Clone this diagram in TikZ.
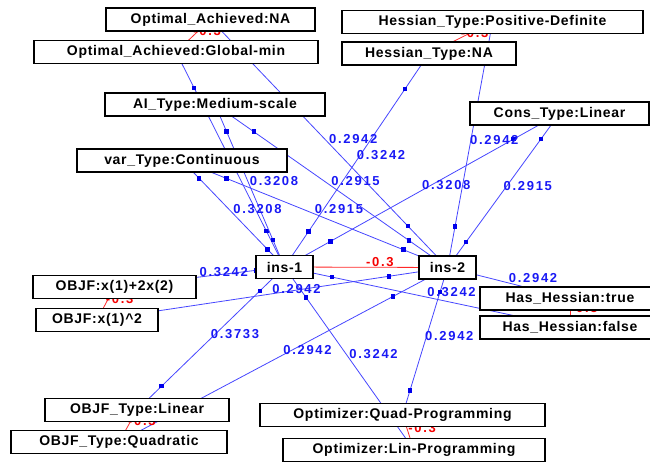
\documentclass[tikz,border=0pt]{standalone}
\usepackage{fontspec}
\setmainfont{Liberation Sans}
\newfontfamily\nodefont[LetterSpace=5]{Liberation Sans Bold}
\newfontfamily\wtfont[LetterSpace=13]{Liberation Sans Bold}
\definecolor{lineblue}{RGB}{70,70,255}
\definecolor{labblue}{RGB}{25,25,245}
\definecolor{sqblue}{RGB}{0,0,235}
\definecolor{linered}{RGB}{255,40,40}
\definecolor{labred}{RGB}{245,0,0}
\pgfdeclarelayer{edgelayer}
\pgfdeclarelayer{labellayer}
\pgfsetlayers{edgelayer,labellayer,main}
\tikzset{
  box/.style={draw=black, line width=1.8pt, fill=white, inner sep=0pt,
    minimum height=23pt, font=\nodefont\fontsize{14}{16}\selectfont},
  wline/.style={draw=lineblue, line width=0.8pt},
  rline/.style={draw=linered, line width=0.8pt},
  bsq/.style={rectangle, fill=sqblue, draw=none, inner sep=0pt, minimum size=4.5pt},
  rsq/.style={rectangle, fill=linered, draw=none, inner sep=0pt, minimum size=4.5pt},
  wlab/.style={text=labblue, font=\wtfont\fontsize{13}{15}\selectfont, anchor=south west, inner sep=0pt},
  rlab/.style={text=labred, font=\wtfont\fontsize{13}{15}\selectfont, anchor=south west, inner sep=0pt}
}
\begin{document}
\begin{tikzpicture}[x=1pt,y=-1pt]
\useasboundingbox (0,0) rectangle (650,463);
\clip (0,0) rectangle (650,463);
% nodes
\node[box, minimum width=209pt] (oana) at (210.5,19.5) {Optimal\_Achieved:NA};
\node[box, minimum width=284pt] (oagm) at (176,52) {Optimal\_Achieved:Global-min};
\node[box, minimum width=220pt] (ai) at (215,104.5) {AI\_Type:Medium-scale};
\node[box, minimum width=210pt] (var) at (182,160.5) {var\_Type:Continuous};
\node[box, minimum width=301pt] (hpd) at (492.5,22) {Hessian\_Type:Positive-Definite};
\node[box, minimum width=174pt] (hna) at (429,53.5) {Hessian\_Type:NA};
\node[box, minimum width=179pt] (cons) at (559.5,113.5) {Cons\_Type:Linear};
\node[box, minimum width=57pt] (ins1) at (284.5,267) {ins-1};
\node[box, minimum width=57pt] (ins2) at (447.5,267.5) {ins-2};
\node[box, minimum width=163pt] (ob1) at (114.5,287) {OBJF:x(1)+2x(2)};
\node[box, minimum width=122pt] (ob2) at (97,320) {OBJF:x(1)\textasciicircum2};
\node[box, minimum width=180pt] (hht) at (570,298.5) {Has\_Hessian:true};
\node[box, minimum width=180pt] (hhf) at (570,327.5) {Has\_Hessian:false};
\node[box, minimum width=184pt] (ot1) at (137,410) {OBJF\_Type:Linear};
\node[box, minimum width=216pt] (ot2) at (119,442) {OBJF\_Type:Quadratic};
\node[box, minimum width=285pt] (qp) at (402.5,415) {Optimizer:Quad-Programming};
\node[box, minimum width=262pt] (lp) at (414,450) {Optimizer:Lin-Programming};
% edges
\begin{pgfonlayer}{edgelayer}
\foreach \a/\b in {oagm/ins1, oana/ins2, hna/ins1, ai/ins1, ai/ins2, var/ins1, var/ins2,
  cons/ins1, hpd/ins2, cons/ins2, ob1/ins1, ob2/ins2, ot1/ins1, ot2/ins2, lp/ins1, qp/ins2,
  hhf/ins1, hht/ins2}
  \draw[wline] (\a.center) -- node[bsq,pos=1/6]{} node[bsq,pos=5/6]{} (\b.center);
\foreach \a/\b in {oana/oagm, hpd/hna, ob1/ob2, hht/hhf, ot1/ot2, qp/lp, ins1/ins2}
  \draw[rline] (\a.center) -- node[rsq,pos=1/6]{} node[rsq,pos=5/6]{} (\b.center);
\end{pgfonlayer}
\begin{pgfonlayer}{labellayer}
\foreach \a/\b/\w in {oana/ins2/0.2942, hna/ins1/0.3242, ai/ins1/0.3208, ai/ins2/0.2915,
  var/ins1/0.3208, var/ins2/0.2915, cons/ins1/0.3208, hpd/ins2/0.2942, cons/ins2/0.2915,
  ob1/ins1/0.3242, ob2/ins2/0.2942, ot1/ins1/0.3733, ot2/ins2/0.2942, lp/ins1/0.3242,
  qp/ins2/0.2942, hhf/ins1/0.3242, hht/ins2/0.2942}
  \path (\a.center) -- node[wlab,pos=0.5]{\w} (\b.center);
\foreach \a/\b in {oana/oagm, hpd/hna, ob1/ob2, hht/hhf, ot1/ot2, qp/lp, ins1/ins2}
  \path (\a.center) -- node[rlab,pos=0.5]{-0.3} (\b.center);
\end{pgfonlayer}
\end{tikzpicture}
\end{document}
